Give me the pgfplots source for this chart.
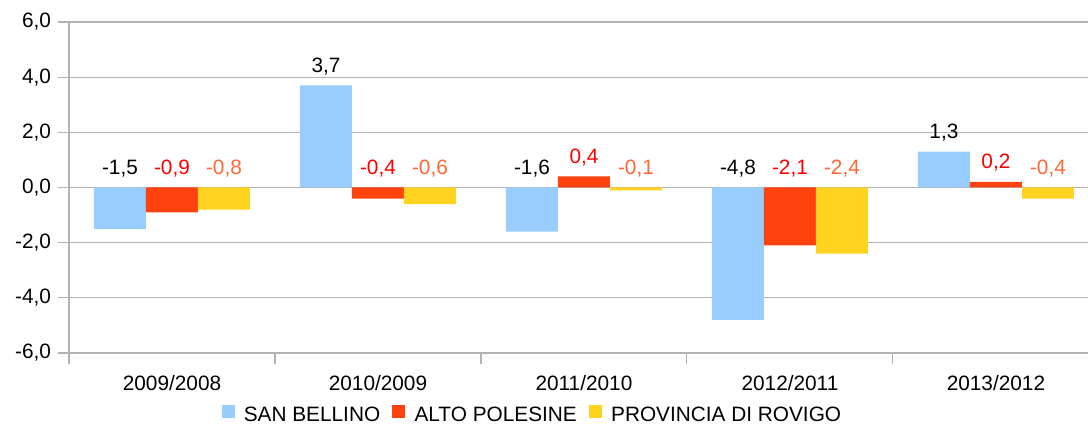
\documentclass[border=0pt]{standalone}
\usepackage{fontspec}
\setmainfont{Liberation Sans}
\usepackage{pgfplots}
\pgfplotsset{compat=1.18}
\definecolor{sanbel}{HTML}{99CCFF}
\definecolor{altopol}{HTML}{FF420E}
\definecolor{rovigo}{HTML}{FFD320}
\definecolor{lblred}{HTML}{FF0000}
\definecolor{lblorange}{HTML}{FF6633}
\definecolor{gridgray}{HTML}{B3B3B3}
\newcommand\cf{\fontsize{15.6}{18}\selectfont}

\begin{document}
\begin{tikzpicture}
\useasboundingbox (-51.75pt,-54pt) rectangle (764.25pt,264.75pt);
\begin{axis}[
  scale only axis,
  width=764.25pt, height=248.25pt,
  at={(0,0)}, anchor=south west,
  ybar=0pt, bar width=39pt,
  xmin=-0.5, xmax=4.447,
  ymin=-6, ymax=6,
  ytick={-6,-4,...,6},
  xtick={-0.5,0.5,1.5,2.5,3.5},
  xticklabels={{},{},{},{},{}},
  extra x ticks={0,1,2,3,4},
  extra x tick labels={2009/2008,2010/2009,2011/2010,2012/2011,2013/2012},
  extra x tick style={major tick length=0pt, grid=none, xticklabel style={yshift=-13pt}},
  axis x line*=bottom, axis y line*=left,
  axis line style={-, draw=gridgray, line width=0.8pt},
  tick style={draw=gridgray, line width=0.8pt},
  tick align=outside, major tick length=8.5pt,
  ymajorgrids, grid style={gridgray, line width=0.8pt},
  tick label style={font=\cf, text=black},
  /pgf/number format/assume math mode=true,
  yticklabel style={/pgf/number format/fixed, /pgf/number format/fixed zerofill,
    /pgf/number format/precision=1, /pgf/number format/use comma, xshift=-1.5pt},
  nodes near coords,
  point meta=rawy,
  visualization depends on={rawy \as \rawy},
  nodes near coords style={font=\cf, /pgf/number format/fixed, /pgf/number format/fixed zerofill,
    /pgf/number format/precision=1, /pgf/number format/use comma,
    /pgf/number format/assume math mode=true},
  every node near coord/.append style={anchor=base, inner sep=0pt, yshift={10pt - min(\rawy,0)*20.6875pt}},
  legend style={at={(0.455,-0.187)}, anchor=center, draw=none, fill=none, font=\cf,
    legend columns=-1,
    /tikz/every odd column/.append style={column sep=5pt},
    /tikz/every even column/.append style={column sep=7pt}},
  legend cell align=left,
  every axis plot post/.append style={legend image code/.code={\draw[#1,draw=none] (0pt,-2.5pt) rectangle (9.75pt,7.25pt);}},
]
\addplot[fill=sanbel, draw=none, every node near coord/.append style={text=black}]
  coordinates {(0,-1.5) (1,3.7) (2,-1.6) (3,-4.8) (4,1.3)};
\addlegendentry{SAN BELLINO}
\addplot[fill=altopol, draw=none, every node near coord/.append style={text=lblred}]
  coordinates {(0,-0.9) (1,-0.4) (2,0.4) (3,-2.1) (4,0.2)};
\addlegendentry{ALTO POLESINE}
\addplot[fill=rovigo, draw=none, every node near coord/.append style={text=lblorange}]
  coordinates {(0,-0.8) (1,-0.6) (2,-0.1) (3,-2.4) (4,-0.4)};
\addlegendentry{PROVINCIA DI ROVIGO}
\end{axis}
\end{tikzpicture}
\end{document}
